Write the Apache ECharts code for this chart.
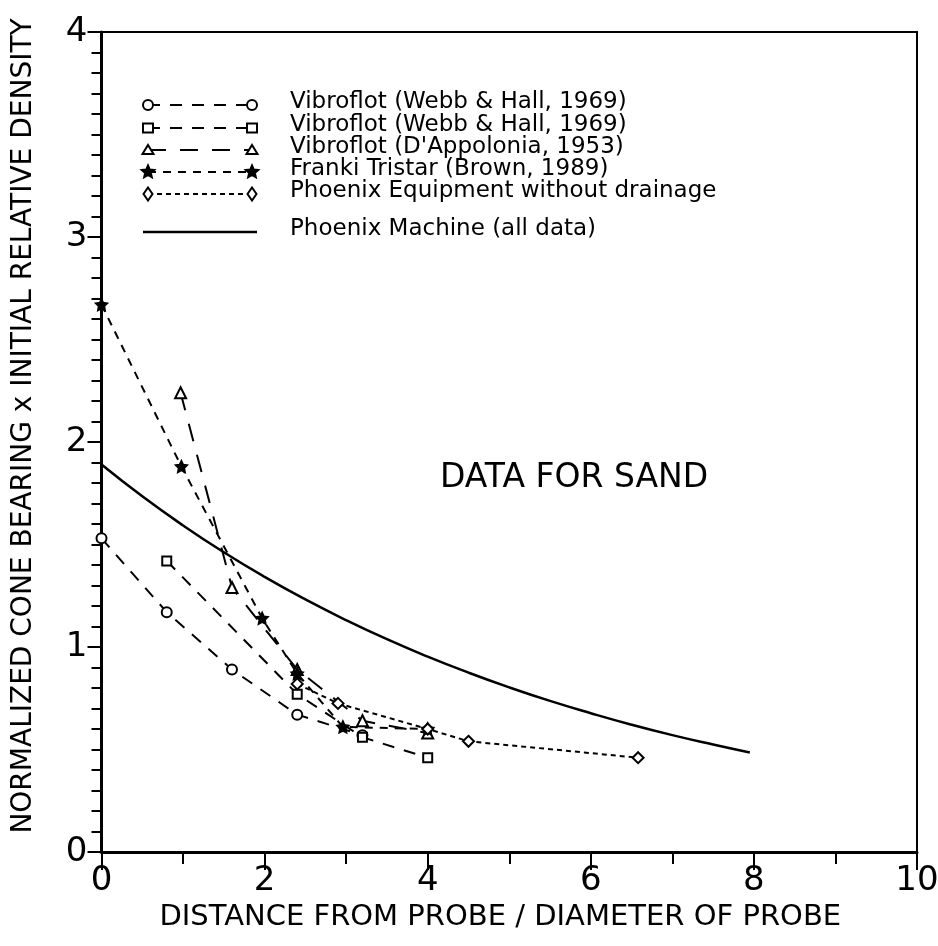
<!DOCTYPE html>
<html>
<head>
<meta charset="utf-8">
<script src="https://cdn.jsdelivr.net/npm/echarts@6/dist/echarts.min.js"></script>
<style>
  html, body { margin: 0; padding: 0; background: #fff; }
  #chart { width: 938px; height: 946px; }
</style>
</head>
<body>
<div id="chart"></div>
<script>
// 数据
const circleX = [0, 0.8, 1.6, 2.4, 3.2];
const circleY = [1.53, 1.17, 0.89, 0.67, 0.57];

const squareX = [0.8, 2.4, 3.2, 4.0];
const squareY = [1.42, 0.77, 0.56, 0.46];

const triangleX = [0.97, 1.6, 2.4, 3.2, 4.0];
const triangleY = [2.24, 1.29, 0.89, 0.64, 0.58];

const frankiX = [0, 0.98, 1.97, 2.4, 2.96, 4.0];
const frankiY = [2.67, 1.88, 1.14, 0.87, 0.61, 0.6];

const phoenixEqX = [2.4, 2.9, 4.0, 4.5, 6.58];
const phoenixEqY = [0.82, 0.725, 0.6, 0.54, 0.46];

const machineX = [0, 0.5, 1, 1.5, 2, 2.5, 3, 3.5, 4, 4.5, 5, 5.5, 6, 6.5, 7, 7.5, 7.95];
const machineY = [1.89, 1.735, 1.593, 1.462, 1.342, 1.232, 1.131, 1.038, 0.953, 0.875, 0.803, 0.737, 0.677, 0.621, 0.57, 0.524, 0.485];

const legendNames = [
  "Vibroflot (Webb & Hall, 1969)",
  "Vibroflot (Webb & Hall, 1969)",
  "Vibroflot (D'Appolonia, 1953)",
  "Franki Tristar (Brown, 1989)",
  "Phoenix Equipment without drainage",
  "Phoenix Machine (all data)"
];

const xTitle = "DISTANCE FROM PROBE / DIAMETER OF PROBE";
const yTitle = "NORMALIZED CONE BEARING x INITIAL RELATIVE DENSITY";
const noteText = "DATA FOR SAND";

const font = "DejaVu Sans";
const starPath = "path://M0,-10 L2.9,-4 9.5,-3.1 4.7,1.5 5.9,8.1 0,5 -5.9,8.1 -4.7,1.5 -9.5,-3.1 -2.9,-4Z";

function pairs(xs, ys) {
  return xs.map((x, i) => [x, ys[i]]);
}

// 每条线的样式
const styles = [
  { symbol: "circle", dash: [12, 10], fill: "#fff", size: 10 },
  { symbol: "rect", dash: [12, 10], fill: "#fff", size: 9 },
  { symbol: "triangle", dash: [18, 14], fill: "#fff", size: 11 },
  { symbol: starPath, dash: [8, 7], fill: "#000", size: 11 },
  { symbol: "diamond", dash: [5, 4], fill: "#fff", size: 11 }
];
const seriesData = [
  pairs(circleX, circleY),
  pairs(squareX, squareY),
  pairs(triangleX, triangleY),
  pairs(frankiX, frankiY),
  pairs(phoenixEqX, phoenixEqY)
];

const series = seriesData.map((d, i) => ({
  name: legendNames[i] + "#" + i,
  type: "line",
  data: d,
  symbol: styles[i].symbol,
  symbolSize: styles[i].size,
  itemStyle: { color: styles[i].fill, borderColor: "#000", borderWidth: 2 },
  lineStyle: { color: "#000", width: 2, type: styles[i].dash },
  z: 3
}));
series.push({
  name: legendNames[5],
  type: "line",
  data: pairs(machineX, machineY),
  smooth: true,
  showSymbol: false,
  lineStyle: { color: "#000", width: 2.5, type: "solid" },
  z: 2
});

// 自定义图例
const legendRows = [105, 128, 150, 172, 194, 232];
const lx1 = 148, lx2 = 252, ltext = 290;
function marker(kind, cx, cy, fill) {
  const st = { fill: fill, stroke: "#000", lineWidth: 2 };
  if (kind === "circle") return { type: "circle", shape: { cx: cx, cy: cy, r: 5 }, style: st };
  if (kind === "rect") return { type: "rect", shape: { x: cx - 5, y: cy - 4.5, width: 10, height: 9 }, style: st };
  if (kind === "triangle") return { type: "polygon", shape: { points: [[cx, cy - 5], [cx + 5.5, cy + 4], [cx - 5.5, cy + 4]] }, style: st };
  if (kind === "diamond") return { type: "polygon", shape: { points: [[cx, cy - 6.5], [cx + 4.5, cy], [cx, cy + 6.5], [cx - 4.5, cy]] }, style: st };
  const pts = [];
  for (let k = 0; k < 10; k++) {
    const r = k % 2 === 0 ? 6.5 : 3;
    const a = -Math.PI / 2 + k * Math.PI / 5;
    pts.push([cx + r * Math.cos(a), cy + r * Math.sin(a)]);
  }
  return { type: "polygon", shape: { points: pts }, style: st };
}
const kinds = ["circle", "rect", "triangle", "star", "diamond"];
const graphic = [];
legendRows.forEach((y, i) => {
  if (i < 5) {
    graphic.push({ type: "line", shape: { x1: lx1, y1: y, x2: lx2, y2: y }, style: { stroke: "#000", lineWidth: 2, lineDash: styles[i].dash } });
    graphic.push(marker(kinds[i], lx1, y, styles[i].fill));
    graphic.push(marker(kinds[i], lx2, y, styles[i].fill));
  } else {
    graphic.push({ type: "line", shape: { x1: lx1 - 5, y1: y, x2: lx2 + 5, y2: y }, style: { stroke: "#000", lineWidth: 2.5 } });
  }
  graphic.push({
    type: "text", left: ltext, top: y - 14,
    style: { text: legendNames[i], font: "23px '" + font + "'", fill: "#000" }
  });
});
graphic.push({
  type: "text", left: 440, top: 462,
  style: { text: noteText, font: "33px '" + font + "'", fill: "#000" }
});

const chart = echarts.init(document.getElementById("chart"));
chart.setOption({
  animation: false,
  backgroundColor: "#fff",
  grid: {
    left: 101.5, right: 21, top: 32, bottom: 94,
    outerBoundsMode: "none", containLabel: false,
    show: true, borderColor: "#000", borderWidth: 2
  },
  xAxis: {
    type: "value", min: 0, max: 10, interval: 2,
    name: xTitle, nameLocation: "middle", nameGap: 48,
    nameTextStyle: { fontFamily: font, fontSize: 29, color: "#000", padding: [0, 18, 0, 0] },
    axisLine: { lineStyle: { color: "#000", width: 3 } },
    axisTick: { length: 18, lineStyle: { color: "#000", width: 2 } },
    minorTick: { show: true, splitNumber: 2, length: 12, lineStyle: { color: "#000", width: 2 } },
    axisLabel: { fontFamily: font, fontSize: 34, color: "#000", margin: 12 },
    splitLine: { show: false }
  },
  yAxis: {
    type: "value", min: 0, max: 4, interval: 1,
    name: yTitle, nameLocation: "middle", nameGap: 64,
    nameTextStyle: { fontFamily: font, fontSize: 28, color: "#000", padding: [0, 0, 0, 32] },
    axisLine: { lineStyle: { color: "#000", width: 3 } },
    axisTick: { length: 14, lineStyle: { color: "#000", width: 2 } },
    minorTick: { show: true, splitNumber: 10, length: 10, lineStyle: { color: "#000", width: 2 } },
    axisLabel: { fontFamily: font, fontSize: 34, color: "#000", margin: 14 },
    splitLine: { show: false }
  },
  graphic: graphic,
  series: series
});
</script>
</body>
</html>
